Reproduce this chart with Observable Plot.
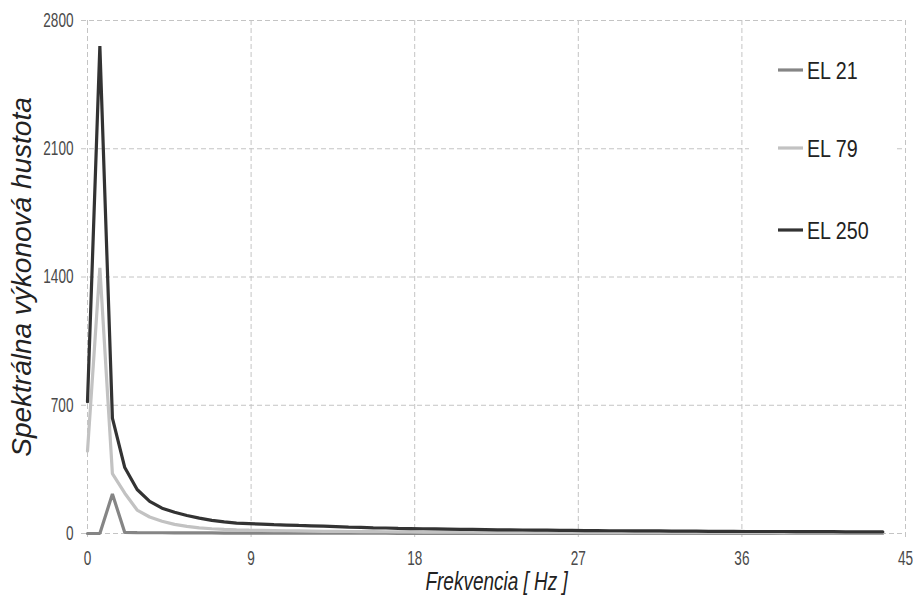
<!DOCTYPE html>
<html>
<head>
<meta charset="utf-8">
<script src="https://cdn.jsdelivr.net/npm/d3@7"></script>
<script src="https://cdn.jsdelivr.net/npm/@observablehq/plot@0.6"></script>
<style>
  html, body { margin: 0; padding: 0; background: #fff; }
  #chart svg { display: block; }
</style>
</head>
<body>
<div id="chart"></div>
<script>
const seriesNames = ["EL 21", "EL 79", "EL 250"];
const seriesColors = ["#858585", "#c2c2c2", "#333333"];

const freq = [0, 0.68, 1.37, 2.05, 2.73, 3.42, 4.10, 4.79, 5.47, 6.15, 6.84, 7.52, 8.20, 8.89, 9.57, 10.25,
  10.94, 11.62, 12.30, 12.99, 13.67, 14.36, 15.04, 15.72, 16.41, 17.09, 17.77, 18.46, 19.14, 19.82, 20.51,
  21.19, 21.88, 22.56, 23.24, 23.93, 24.61, 25.29, 25.98, 26.66, 27.34, 28.03, 28.71, 29.39, 30.08, 30.76,
  31.45, 32.13, 32.81, 33.50, 34.18, 34.86, 35.55, 36.23, 36.91, 37.60, 38.28, 38.96, 39.65, 40.33, 41.02,
  41.70, 42.38, 43.07, 43.75];

const el21 = [0, 0, 215, 6, 5, 4, 4, 3.5, 3, 3, 3, 2.5, 2.5, 2.5, 2, 2,
  2, 2, 2, 1.5, 1.5, 1.5, 1.5, 1.5, 1.5, 1, 1, 1, 1, 1, 1,
  1, 1, 1, 1, 1, 1, 1, 1, 1, 1, 1, 1, 1, 1, 1,
  1, 1, 1, 1, 1, 1, 1, 1, 1, 1, 1, 1, 1, 1, 1,
  1, 1, 1, 1];

const el79 = [450, 1450, 327, 220, 128, 90, 67, 50, 39, 31, 26, 22, 20, 18, 17, 16,
  15, 14, 13, 12, 11.5, 11, 10.5, 10, 9.5, 9, 8.5, 8, 8, 7.5, 7,
  7, 6.5, 6.5, 6, 6, 6, 5.5, 5.5, 5.5, 5, 5, 5, 5, 4.5, 4.5,
  4.5, 4.5, 4.5, 4, 4, 4, 4, 4, 4, 4, 3.5, 3.5, 3.5, 3.5, 3.5,
  3.5, 3.5, 3.5, 3.5];

const el250 = [720, 2660, 630, 360, 240, 175, 138, 116, 98, 84, 72, 63, 57, 54, 51, 48,
  46, 44, 42, 40, 38, 35, 33, 31, 30, 28, 27, 26, 25, 24, 23,
  22, 21, 20, 20, 19, 18, 18, 17, 17, 16, 16, 15, 15, 14, 14,
  14, 13, 13, 13, 12, 12, 12, 11, 11, 11, 11, 10, 10, 10, 10,
  9, 9, 9, 9];

const xTicks = [0, 9, 18, 27, 36, 45];
const yTicks = [0, 700, 1400, 2100, 2800];

const seriesValues = [el21, el79, el250];
const rows = [];
seriesNames.forEach((name, s) => {
  freq.forEach((f, i) => rows.push({series: name, f, v: seriesValues[s][i]}));
});

const sans = "'Liberation Sans', Arial, sans-serif";
const gridStyle = {stroke: "#c4c4c4", strokeWidth: 1, strokeDasharray: "5,3"};

const chart = Plot.plot({
  width: 913,
  height: 612,
  marginLeft: 87,
  marginRight: 8,
  marginTop: 20,
  marginBottom: 79,
  style: {fontFamily: sans, background: "#fff"},
  x: {domain: [0, 45]},
  y: {domain: [0, 2800]},
  color: {domain: seriesNames, range: seriesColors},
  marks: [
    Plot.ruleY(yTicks, {...gridStyle, insetLeft: -6}),
    Plot.ruleX(xTicks, {...gridStyle, insetBottom: -6}),
    Plot.ruleX([45], {...gridStyle}),
    Plot.axisY({ticks: yTicks, tickFormat: d => String(d), tickSize: 0, tickPadding: 14, fontSize: 20, fill: "#4a4a4a", label: null, className: "tick-y"}),
    Plot.axisX({ticks: xTicks, tickFormat: d => String(d), tickSize: 0, tickPadding: 17, fontSize: 20, fill: "#4a4a4a", label: null, className: "tick-x"}),
    Plot.line(rows, {x: "f", y: "v", z: "series", stroke: "series", strokeWidth: 3.2, strokeLinejoin: "miter"}),
    Plot.text(["Frekvencia [ Hz ]"], {frameAnchor: "bottom", textAnchor: "middle", dy: 56, fontSize: 25, fontStyle: "italic", fill: "#222", className: "xtitle"}),
    Plot.text(["Spektrálna výkonová hustota"], {frameAnchor: "left", textAnchor: "middle", dx: -65, rotate: -90, fontSize: 28, fontStyle: "italic", fill: "#222"})
  ]
});

document.getElementById("chart").appendChild(chart);

// legend (white box inside the plot area, top right)
const svg = d3.select(chart);
const lg = svg.append("g").attr("class", "legend");
lg.append("rect").attr("x", 749).attr("y", 42).attr("width", 146).attr("height", 216).attr("fill", "#fff");
const legendY = [70, 148, 230];
seriesNames.forEach((name, i) => {
  lg.append("line").attr("x1", 778).attr("x2", 803).attr("y1", legendY[i]).attr("y2", legendY[i])
    .attr("stroke", seriesColors[i]).attr("stroke-width", 3.2);
  lg.append("text").attr("x", 807).attr("y", legendY[i]).attr("dy", "0.36em")
    .attr("text-anchor", "start")
    .attr("font-size", 24).attr("font-family", sans).attr("fill", "#222").text(name)
    .attr("class", "legend-text");
});

// horizontal compression of texts to mimic the narrow typeface of the original
function squeeze(selection, k) {
  selection.each(function () {
    const b = this.getBBox();
    const anchor = getComputedStyle(this).textAnchor;
    const ax = anchor === "end" ? b.x + b.width : anchor === "middle" ? b.x + b.width / 2 : b.x;
    const old = this.getAttribute("transform") || "";
    this.setAttribute("transform", `${old} translate(${ax},0) scale(${k},1) translate(${-ax},0)`);
  });
}
squeeze(svg.selectAll(".tick-y text, .tick-x text"), 0.68);
squeeze(svg.selectAll(".legend-text"), 0.82);
squeeze(svg.selectAll(".xtitle text"), 0.76);
</script>
</body>
</html>
